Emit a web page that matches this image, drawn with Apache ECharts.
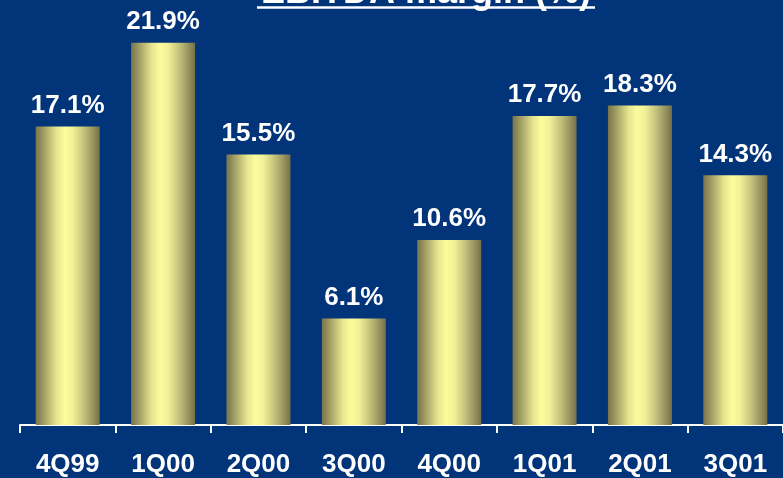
<!DOCTYPE html>
<html>
<head>
<meta charset="utf-8">
<script src="https://cdn.jsdelivr.net/npm/echarts@6/dist/echarts.min.js"></script>
<style>
  html, body { margin: 0; padding: 0; background: #02347a; }
  #chart { width: 783px; height: 478px; }
</style>
</head>
<body>
<div id="chart"></div>
<script>
// Quarterly EBITDA margin, in percent
const quarters = ['4Q99', '1Q00', '2Q00', '3Q00', '4Q00', '1Q01', '2Q01', '3Q01'];
const marginPct = [17.1, 21.9, 15.5, 6.1, 10.6, 17.7, 18.3, 14.3];
const titleText = 'EBITDA margin (%)';

const chart = echarts.init(document.getElementById('chart'));

// Cylinder-like shading across each bar
const barFill = new echarts.graphic.LinearGradient(0, 0, 1, 0, [
  { offset: 0.00, color: '#77744a' },
  { offset: 0.15, color: '#a9a66a' },
  { offset: 0.32, color: '#e6e48d' },
  { offset: 0.45, color: '#fcfc9e' },
  { offset: 0.58, color: '#f2f196' },
  { offset: 0.78, color: '#bcb977' },
  { offset: 1.00, color: '#74714a' }
]);

chart.setOption({
  backgroundColor: '#02347a',
  animation: false,
  grid: { left: 20, right: 0, top: 6, bottom: 52 },
  xAxis: {
    type: 'category',
    data: quarters,
    axisLine: { lineStyle: { color: '#ffffff', width: 2 } },
    axisTick: { show: true, length: 8, alignWithLabel: false, lineStyle: { color: '#ffffff', width: 2 } },
    axisLabel: {
      color: '#ffffff',
      fontFamily: 'Liberation Sans, Arial, sans-serif',
      fontWeight: 'bold',
      fontSize: 26,
      margin: 27
    }
  },
  yAxis: {
    type: 'value',
    min: 0,
    max: 24,
    show: false,
    splitLine: { show: false }
  },
  series: [{
    type: 'bar',
    data: marginPct,
    barWidth: 64,
    itemStyle: { color: barFill },
    label: {
      show: true,
      position: 'top',
      distance: 8,
      color: '#ffffff',
      fontFamily: 'Liberation Sans, Arial, sans-serif',
      fontWeight: 'bold',
      fontSize: 26,
      formatter: p => p.value.toFixed(1) + '%'
    }
  }],
  graphic: [
    {
      type: 'text',
      style: {
        text: titleText,
        x: 426,
        y: 11,
        align: 'center',
        verticalAlign: 'bottom',
        fill: '#ffffff',
        font: 'bold 36px "Liberation Sans", Arial, sans-serif'
      }
    },
    {
      type: 'line',
      shape: { x1: 257, y1: 7.5, x2: 595, y2: 7.5 },
      style: { stroke: '#ffffff', lineWidth: 2.5 }
    }
  ]
});
</script>
</body>
</html>
